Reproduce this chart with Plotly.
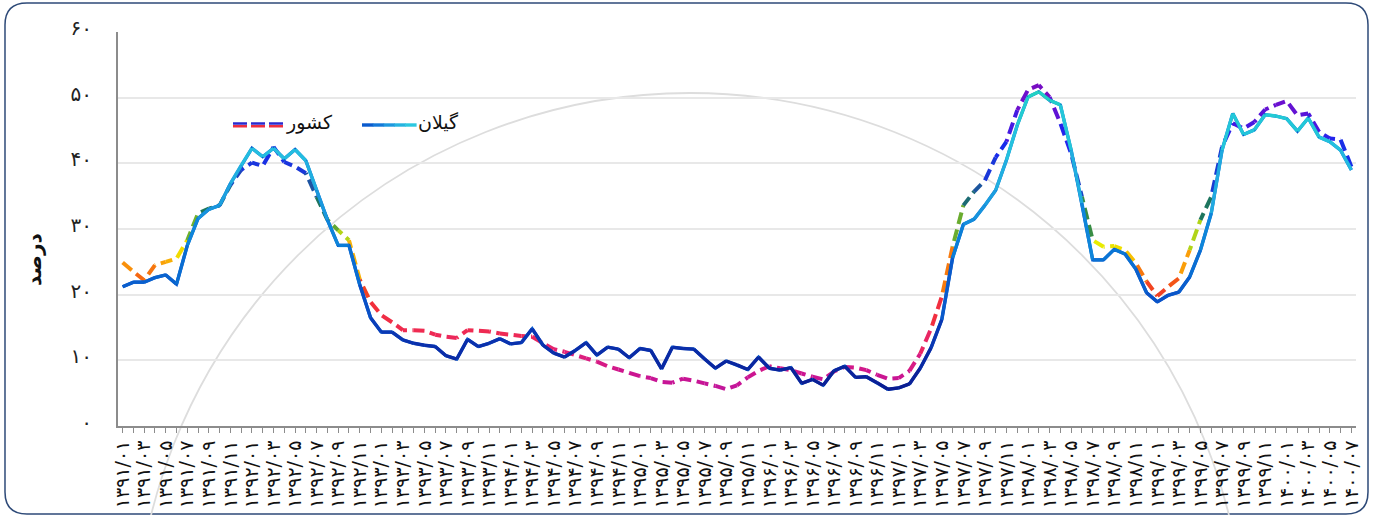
import math
import plotly.graph_objects as go
from plotly.colors import sample_colorscale

# ---------------- data ----------------
years = [1391, 1392, 1393, 1394, 1395, 1396, 1397, 1398, 1399, 1400]
last_month_1400 = 7

gilan = [21.2, 21.9, 21.9, 22.6, 23.0, 21.6, 27.5, 31.6, 33.0, 33.6,
         36.9, 39.7, 42.3, 41.0, 42.3, 40.7, 42.1, 40.4, 35.9, 31.4,
         27.5, 27.5, 21.5, 16.5, 14.3, 14.3, 13.1, 12.6, 12.3, 12.1,
         10.7, 10.2, 13.2, 12.1, 12.6, 13.3, 12.5, 12.7, 14.8, 12.3,
         11.1, 10.5, 11.5, 12.7, 10.8, 12.0, 11.7, 10.4, 11.8, 11.5,
         8.7, 12.0, 11.8, 11.7, 10.2, 8.8, 9.9, 9.3, 8.6, 10.5,
         8.8, 8.5, 8.9, 6.5, 7.1, 6.2, 8.4, 9.1, 7.4, 7.5,
         6.6, 5.6, 5.8, 6.4, 8.8, 11.9, 16.2, 25.6, 30.7, 31.5,
         33.6, 35.9, 40.5, 45.8, 50.1, 50.9, 49.6, 48.9, 42.0, 33.9,
         25.3, 25.3, 26.9, 26.2, 23.9, 20.3, 18.9, 19.9, 20.4, 22.7,
         26.8, 32.4, 42.0, 47.6, 44.4, 45.1, 47.4, 47.2, 46.8, 44.9,
         46.9, 44.0, 43.3, 42.0, 39.0]

keshvar = [24.9, 23.5, 22.2, 24.5, 25.0, 25.5, 28.3, 32.4, 33.1, 33.6,
           36.7, 39.0, 40.1, 39.6, 42.5, 40.2, 39.5, 38.5, 34.9, 31.4,
           29.8, 28.3, 22.3, 18.9, 16.9, 15.8, 14.6, 14.6, 14.5, 13.9,
           13.6, 13.4, 14.6, 14.5, 14.4, 14.1, 13.9, 13.7, 13.6, 12.6,
           11.7, 11.3, 10.8, 10.3, 9.8, 9.1, 8.6, 8.1, 7.6, 7.3,
           6.7, 6.6, 7.2, 6.9, 6.5, 6.1, 5.6, 6.2, 7.4, 8.4,
           9.1, 8.8, 8.5, 8.0, 7.5, 7.1, 8.3, 9.0, 8.9, 8.5,
           7.8, 7.2, 7.3, 8.4, 11.0, 14.8, 19.7, 27.3, 33.6, 35.7,
           37.4, 40.9, 43.3, 48.1, 51.2, 51.9, 50.1, 46.1, 41.5, 34.9,
           28.3, 27.3, 27.4, 26.8, 24.8, 22.0, 19.8, 21.2, 22.5, 26.8,
           31.4, 34.9, 42.5, 46.1, 45.3, 46.3, 48.2, 48.9, 49.5, 47.3,
           47.6, 44.8, 43.8, 43.6, 39.5]

y_ticks = [0, 10, 20, 30, 40, 50, 60]
name_keshvar = "کشور"
name_gilan = "گیلان"
y_title = "درصد"

# ---------------- labels ----------------
fa_digits = str.maketrans("0123456789", "۰۱۲۳۴۵۶۷۸۹")
month_labels = []
for yr in years:
    for m in range(1, 13):
        if yr == 1400 and m > last_month_1400:
            break
        month_labels.append(f"{yr}/{m:02d}".translate(fa_digits))
n = len(month_labels)
xs = list(range(n))
tick_text = [lab if i % 2 == 0 else "" for i, lab in enumerate(month_labels)]
y_tick_text = [str(v).translate(fa_digits) for v in y_ticks]

# ---------------- geometry ----------------
W, H = 1374, 515
L_PX, R_PX, T_PX, B_PX = 118, 1356, 32, 426
x_range = [-0.43, n - 1 + 0.43]
y_range = [0, 60]
sx = (R_PX - L_PX) / (x_range[1] - x_range[0])
sy = (B_PX - T_PX) / (y_range[1] - y_range[0])


def px2x(px):
    return (px - L_PX) / (R_PX - L_PX)


def py2y(py):
    return (B_PX - py) / (B_PX - T_PX)


# ---------------- colour scales ----------------
def make_scale(stops):
    vmin, vmax = stops[0][0], stops[-1][0]
    cs = [[(v - vmin) / (vmax - vmin), c] for v, c in stops]

    def f(v):
        t = min(1.0, max(0.0, (v - vmin) / (vmax - vmin)))
        return sample_colorscale(cs, [t])[0]
    return f


dash_color = make_scale([
    (5, "#C0169E"), (8, "#CC1590"), (11, "#E0207A"), (14, "#EE2A55"),
    (18, "#F22F3A"), (21, "#F2451F"), (23, "#F56A10"), (24.5, "#FA9A0A"),
    (26.5, "#F5D400"), (27.8, "#E8EC00"), (29.5, "#A0CC20"), (31, "#4A9A38"),
    (32.5, "#1E7A55"), (35, "#1A6878"), (37, "#1D4FA8"), (39, "#1A38D8"),
    (43, "#1828F0"), (46, "#4A18E0"), (49, "#6A10D0"), (52, "#7A0CC0"),
])
solid_color = make_scale([
    (5, "#0B1A8E"), (12, "#0A2EAA"), (18, "#0A4AC4"), (22, "#0A60CE"),
    (28, "#0A7ED8"), (33, "#1896DE"), (38, "#20AEE0"), (42, "#24C0E0"),
    (47, "#22CAD6"), (51, "#20D2C0"),
])

fig = go.Figure()

# ---------------- dashed series (country) ----------------
DASH, GAP = 12.0, 5.5
PERIOD = DASH + GAP
phase = 0.0
for k in range(n - 1):
    v0, v1 = keshvar[k], keshvar[k + 1]
    seg_len = math.hypot(sx, (v1 - v0) * sy)
    pos = phase % PERIOD
    if pos < DASH:
        parts = [DASH - pos, GAP]
    else:
        parts = [0.0, PERIOD - pos]
    covered = sum(parts)
    while covered < seg_len + PERIOD:
        parts += [DASH, GAP]
        covered += PERIOD
    dash_str = ",".join(f"{p:.2f}px" for p in parts)
    phase = (phase + seg_len) % PERIOD
    fig.add_trace(go.Scatter(
        x=[xs[k], xs[k + 1]], y=[v0, v1], mode="lines",
        line=dict(color=dash_color((v0 + v1) / 2), width=4, dash=dash_str),
        showlegend=False, hoverinfo="skip"))

# ---------------- solid series (Gilan) ----------------
fig.add_trace(go.Scatter(x=xs, y=gilan, mode="lines",
                         line=dict(color="#0A5ACD", width=3.2),
                         showlegend=False, hoverinfo="skip"))
for k in range(n - 1):
    v0, v1 = gilan[k], gilan[k + 1]
    fig.add_trace(go.Scatter(
        x=[xs[k], xs[k + 1]], y=[v0, v1], mode="lines",
        line=dict(color=solid_color((v0 + v1) / 2), width=3.4),
        showlegend=False, hoverinfo="skip"))

# ---------------- shapes: frame, watermark arc, legend ----------------
shapes = []
fl, fr, ft, fb, rad = 5, 1368, 3, 514, 22
pts = lambda px, py: f"{px2x(px):.5f},{py2y(py):.5f}"
frame_path = (f"M {pts(fl + rad, ft)} L {pts(fr - rad, ft)} Q {pts(fr, ft)} {pts(fr, ft + rad)} "
              f"L {pts(fr, fb - rad)} Q {pts(fr, fb)} {pts(fr - rad, fb)} "
              f"L {pts(fl + rad, fb)} Q {pts(fl, fb)} {pts(fl, fb - rad)} "
              f"L {pts(fl, ft + rad)} Q {pts(fl, ft)} {pts(fl + rad, ft)} Z")
shapes.append(dict(type="path", xref="paper", yref="paper", path=frame_path,
                   line=dict(color="#2E4A78", width=1.5), layer="below"))
cx, cy, R = 690, 648, 555
shapes.append(dict(type="circle", xref="paper", yref="paper",
                   x0=px2x(cx - R), x1=px2x(cx + R), y0=py2y(cy + R), y1=py2y(cy - R),
                   line=dict(color="#DDDDDD", width=1.8), layer="below"))
shapes.append(dict(type="line", xref="paper", yref="paper",
                   x0=px2x(233), x1=px2x(284), y0=py2y(123.5), y1=py2y(123.5),
                   line=dict(color="#2A2AD0", width=2.6, dash="14px,4px")))
shapes.append(dict(type="line", xref="paper", yref="paper",
                   x0=px2x(233), x1=px2x(284), y0=py2y(126.2), y1=py2y(126.2),
                   line=dict(color="#EE3040", width=2.6, dash="14px,4px")))
seg_cols = ["#0A5ACD", "#1478D8", "#1E98DE", "#26B4E0", "#2CC8E0"]
x_start, x_end = 362, 416
step = (x_end - x_start) / len(seg_cols)
for j, c in enumerate(seg_cols):
    shapes.append(dict(type="line", xref="paper", yref="paper",
                       x0=px2x(x_start + j * step), x1=px2x(x_start + (j + 1) * step + 0.6),
                       y0=py2y(125), y1=py2y(125),
                       line=dict(color=c, width=3.4)))

annotations = [
    dict(text=name_keshvar, xref="paper", yref="paper", x=px2x(309), y=py2y(122),
         xanchor="center", yanchor="middle", showarrow=False,
         font=dict(family="DejaVu Sans", size=19, color="#111111")),
    dict(text=name_gilan, xref="paper", yref="paper", x=px2x(438), y=py2y(122),
         xanchor="center", yanchor="middle", showarrow=False,
         font=dict(family="DejaVu Sans", size=19, color="#111111")),
    dict(text=f"<b>{y_title}</b>", xref="paper", yref="paper", x=px2x(34), y=py2y(260),
         xanchor="center", yanchor="middle", showarrow=False, textangle=-90,
         font=dict(family="DejaVu Sans", size=20, color="#111111")),
]

fig.update_layout(
    width=W, height=H,
    margin=dict(l=L_PX, r=W - R_PX, t=T_PX, b=H - B_PX, autoexpand=False),
    paper_bgcolor="white", plot_bgcolor="white",
    showlegend=False,
    shapes=shapes, annotations=annotations,
    font=dict(family="DejaVu Sans"),
)
fig.update_xaxes(
    range=x_range, tickmode="array", tickvals=xs, ticktext=tick_text,
    tickangle=-90, ticks="outside", ticklen=5, tickwidth=1.3, tickcolor="#8C8C8C",
    showline=True, linecolor="#8C8C8C", linewidth=2, showgrid=False, zeroline=False,
    tickfont=dict(family="DejaVu Sans", size=19, color="#111111"),
)
fig.update_yaxes(
    range=y_range, tickmode="array", tickvals=y_ticks, ticktext=y_tick_text,
    ticks="", showline=True, linecolor="#8C8C8C", linewidth=2,
    showgrid=True, gridcolor="#E8E8E8", gridwidth=1.5, zeroline=False,
    ticklabelstandoff=20, ticklabelshift=-4,
    tickfont=dict(family="DejaVu Sans", size=20, color="#222222"),
)

fig.write_html("out.html",
               config={"displayModeBar": False},
               post_script="document.body.style.margin='0';document.body.style.padding='0';")
